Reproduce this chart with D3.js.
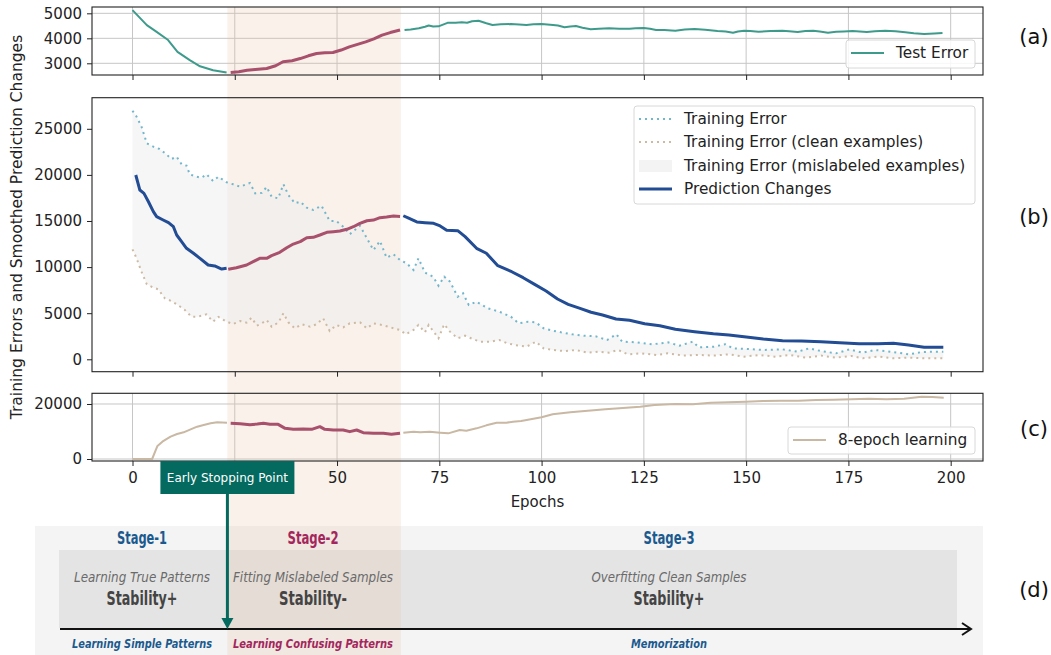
<!DOCTYPE html>
<html>
<head>
<meta charset="utf-8">
<script src="https://cdn.jsdelivr.net/npm/d3@7"></script>
<style>
  body { margin: 0; background: #fff; }
  text { font-family: "DejaVu Sans", sans-serif; }
</style>
</head>
<body>
<div id="chart"></div>
<script>
// ---- data: [epoch, value] ----
const testError = [[0,5130],[3.5,4530],[5.9,4260],[8.7,3930],[11,3460],[14,3125],[16.5,2880],[19.7,2720],[23,2630],
  [24,2630],[26,2660],[28,2720],[30,2750],[32.8,2790],[35,2900],[36.8,3060],[39,3100],[41,3190],[43,3300],[45,3390],[47,3420],[49,3430],[51,3530],[53,3660],[55,3760],[57,3860],[59,3980],[61,4130],[63,4230],[65.4,4330],
  [66.5,4330],[68,4350],[70,4400],[71.5,4460],[72.4,4510],[73.5,4470],[74.8,4480],[77,4620],[79,4620],[80.5,4640],[81.8,4620],[83,4680],[84.6,4700],[86.5,4600],[88,4530],[90,4560],[92.5,4570],[94.5,4550],[96.3,4530],[98,4560],[100,4570],[102.8,4530],[104,4510],[105.6,4440],[107,4470],[108.4,4490],[110,4420],[112,4360],[114,4380],[116.5,4400],[119,4380],[121.5,4383],[123,4400],[125,4410],[126.5,4380],[128,4330],[130,4330],[132.7,4303],[135,4350],[137.4,4370],[140,4340],[143,4290],[145,4270],[146.8,4222],[148,4270],[149.5,4303],[151,4290],[153,4263],[156,4290],[158.9,4303],[160.5,4280],[162.6,4249],[164.5,4290],[166.4,4303],[168,4270],[170,4222],[172,4260],[173.9,4277],[176,4290],[179.5,4249],[181.5,4280],[184,4303],[186.5,4280],[188.9,4240],[191,4200],[193.5,4169],[196,4190],[198,4209]];

const predChanges = [[0.8,19990],[1.8,18360],[2.8,18000],[3.9,17090],[5.1,16010],[5.9,15470],[7.5,15110],[8.8,14820],[10,14380],[10.8,13480],[12,12760],[13.2,12040],[14.9,11500],[16.5,10950],[18.5,10230],[20.1,10120],[21.8,9790],[23,9870],
  [23.4,9760],[25.4,9935],[27.9,10230],[29.5,10590],[31.1,10950],[32.8,10950],[34,11240],[36,11600],[37.7,12100],[39.3,12500],[41,12760],[42.6,13190],[44.2,13230],[45.8,13480],[47.5,13770],[49.1,13840],[50.7,13910],[52.4,14100],[54,14380],[55.6,14750],[57.3,15030],[58.9,15100],[60.5,15360],[62.1,15430],[63.8,15540],[65.4,15500],
  [66.2,15570],[67.5,15300],[69.5,14900],[71.5,14820],[73.6,14750],[75.2,14460],[76.8,14000],[79.5,13950],[81.3,13300],[84.1,12040],[86.5,11500],[89.3,10150],[92.7,9500],[95.5,8850],[98.3,8130],[101.1,7410],[103.9,6540],[106.5,5965],[109.4,5530],[112.1,5100],[114.9,4805],[118.2,4370],[121.5,4230],[125.2,3860],[128.9,3645],[132.7,3250],[137.4,2995],[142,2775],[145.8,2635],[149.5,2450],[154.2,2200],[158.9,2020],[163.5,1985],[168.3,1910],[172.9,1800],[177.6,1690],[182.3,1690],[186,1730],[189.7,1550],[193.5,1300],[198.2,1300]];

const trainError = [[0,26960],[1,26310],[2.2,25230],[3.5,23430],[5.1,23060],[6.6,22810],[8.3,22230],[9.5,21720],[10.8,21970],[12,21150],[13.2,21000],[14,20060],[15.7,19800],[16.9,19700],[18.1,20060],[19.7,19340],[21,19800],[23,19200],[24.6,18980],[26.3,18720],[28.7,19120],[30,18000],[31.6,18050],[32.8,18690],[34,17640],[35.6,17460],[36.9,18980],[38.1,17820],[39.7,16920],[41,17090],[42.6,16440],[44.2,16190],[46.2,16660],[48.2,15000],[49.8,15000],[51.5,14380],[53.1,13560],[55.6,14490],[57.3,13120],[58.9,11850],[60.5,12830],[62.1,11020],[63.8,11390],[65.4,10770],[67,10410],[68.7,9690],[69.9,10950],[71.5,9400],[73.5,8950],[74.8,7980],[76.2,8960],[77.6,8420],[79.5,6790],[80.8,7160],[82.2,5890],[84.1,6250],[86.9,5530],[89.7,5160],[92.5,4620],[94.4,3900],[96.7,4080],[98.6,4000],[100.5,3360],[102.8,3100],[104.7,2930],[107.5,2710],[110.3,2560],[113.2,2500],[116,2090],[118.3,2710],[119.7,1910],[123.4,1840],[127.1,1630],[130.9,1840],[133.7,1480],[137,1910],[138.4,1300],[142.1,1370],[144.9,1630],[146.8,1190],[150.5,1120],[154.2,1010],[158.9,1080],[162.6,820],[165.4,1190],[168.3,890],[172,650],[175.3,1080],[178.5,720],[181.4,1010],[184.2,890],[187,720],[189.8,540],[192.6,760],[195.4,820],[198.2,820]];

const cleanError = [[0,11930],[1,10950],[2.2,9500],[3.5,8130],[5.1,7770],[6.3,7590],[7.9,6620],[9.5,6320],[11.1,5890],[12.8,5350],[14.4,4620],[16,4620],[18.1,4880],[19.7,4080],[21,4600],[23,4080],[24.6,3830],[26.3,4160],[27.9,3970],[29.1,4510],[30.4,3650],[31.6,3900],[32.8,4260],[34,3540],[35.7,4010],[36.9,4990],[38.1,4010],[39.7,3360],[41.4,3800],[43.4,3540],[45,3800],[46.6,4450],[48.2,3070],[49.8,3720],[51.5,3470],[53.1,3900],[55.6,4010],[57.3,3360],[58.9,3900],[61,3720],[63,3470],[65.4,3180],[66.8,2710],[68.7,3180],[69.9,3720],[71.5,2930],[72.4,3720],[74.8,2280],[76.2,3800],[77.6,3000],[79.5,2280],[81.3,2560],[83.1,2210],[85,1910],[87.4,1910],[89.7,2090],[91.6,1740],[93.5,1550],[96.3,1370],[98.6,1910],[100.5,1190],[102.8,1010],[105.6,890],[108.4,1010],[111.2,720],[114,820],[116.4,720],[118.7,1010],[121.1,540],[124.3,650],[128.1,470],[130.9,650],[134.6,400],[138.3,470],[142.1,400],[145.8,540],[149.5,290],[153.3,470],[157,290],[160.8,470],[164.5,180],[168.3,400],[172,180],[175.7,360],[178.5,110],[182.3,290],[186,110],[189.7,180],[193.5,110],[198.2,110]];

const eightEpoch = [[0,0],[4.8,0],[6.1,4730],[7.3,6300],[9.3,8120],[10.9,9090],[12.5,9700],[14.2,10790],[15.8,11760],[17.4,12360],[19.1,12970],[20.7,13330],[23.1,13210],
  [24,13000],[26.3,12850],[28.7,12480],[30.5,12700],[32,12970],[33.6,12600],[35.6,12600],[37.3,11150],[39.3,10790],[41.7,10900],[43.8,10790],[45.8,11760],[47,10790],[49.1,10540],[51.5,10540],[53.1,9940],[54.8,10540],[56.4,9580],[58.9,9330],[61.3,9330],[63.3,8970],[65.4,9330],
  [66.2,9580],[68.7,9940],[70.3,9700],[72.7,9940],[75.2,9580],[77.2,9330],[80,10540],[81.6,10300],[84.1,11150],[86.5,12240],[89,13210],[91.4,13210],[93,13580],[95,13820],[100,15150],[102.7,16240],[107,16970],[111.3,17580],[115.6,18060],[119,18420],[124.1,19030],[127.6,19630],[132.7,20000],[137,19880],[141.3,20480],[145.6,20600],[149.9,20850],[154.2,21100],[158.5,21210],[162.8,21210],[167.1,21450],[171.4,21570],[175.7,21700],[180,21940],[184.3,21700],[188.6,21940],[192.9,22660],[195.5,22540],[198.3,22300]];

const xTicks = [0, 25, 50, 75, 100, 125, 150, 175, 200];
const aTicks = [3000, 4000, 5000];
const bTicks = [0, 5000, 10000, 15000, 20000, 25000];
const cTicks = [0, 20000];
const stage2 = [23.2, 65.6]; // epochs of the shaded stage-2 band
const earlyStop = 23.2;

// ---- layout ----
const W = 1051, H = 655;
const left = 92, right = 983;
const pa = {top: 7, bottom: 75};
const pb = {top: 97.7, bottom: 371.7};
const pc = {top: 393.3, bottom: 461};

const blue = "#224c93", red = "#a8506c", teal = "#3e9b8c";
const lightBlue = "#72b6cc", tan = "#cdbaa4", tan2 = "#c9b8a3";

const x = d3.scaleLinear().domain([-9.9, 207.9]).range([left, right]);
const yA = d3.scaleLinear().domain([2532, 5253]).range([pa.bottom, pa.top]);
const yB = d3.scaleLinear().domain([-1345, 28373]).range([pb.bottom, pb.top]);
const yC = d3.scaleLinear().domain([-727, 23890]).range([pc.bottom, pc.top]);

const svg = d3.select("#chart").append("svg").attr("width", W).attr("height", H);

// ---- panel (d) background ----
svg.append("rect").attr("x", 35).attr("y", 526).attr("width", 948).attr("height", 129).attr("fill", "#f4f4f4");
svg.append("rect").attr("x", 59).attr("y", 550).attr("width", 898).attr("height", 78).attr("fill", "#e4e4e4");

// ---- grids ----
function grid(y, ticks, p) {
  const g = svg.append("g").attr("stroke", "#c6c6c6").attr("stroke-width", 1);
  g.selectAll(".gx").data(xTicks).enter().append("line")
    .attr("x1", d => x(d)).attr("x2", d => x(d)).attr("y1", p.top).attr("y2", p.bottom);
  g.selectAll(".gy").data(ticks).enter().append("line")
    .attr("x1", left).attr("x2", right).attr("y1", d => y(d)).attr("y2", d => y(d));
}
grid(yA, aTicks, pa);
grid(yC, cTicks, pc);

// ---- stage-2 band ----
svg.append("rect")
  .attr("x", x(stage2[0])).attr("width", x(stage2[1]) - x(stage2[0]))
  .attr("y", pa.top).attr("height", H - pa.top)
  .attr("fill", "rgb(226,190,160)").attr("opacity", 0.22);

// ---- helpers ----
function segments(data) {
  return [
    data.filter(d => d[0] < stage2[0]),
    data.filter(d => d[0] >= stage2[0] && d[0] <= stage2[1]),
    data.filter(d => d[0] > stage2[1])
  ];
}
function drawSplit(data, y, color, wBase, wRed) {
  const line = d3.line().x(d => x(d[0])).y(d => y(d[1]));
  const s = segments(data);
  [0, 2, 1].forEach(i => {
    svg.append("path").datum(s[i]).attr("d", line)
      .attr("fill", "none")
      .attr("stroke", i === 1 ? red : color)
      .attr("stroke-width", i === 1 ? wRed : wBase)
      .attr("stroke-linejoin", "round").attr("stroke-linecap", "butt");
  });
}

// ---- panel (a) ----
drawSplit(testError, yA, teal, 2, 3);

// ---- panel (b) ----
const lineB = d3.line().x(d => x(d[0])).y(d => yB(d[1]));
svg.append("path")
  .datum(trainError.concat(cleanError.slice().reverse()))
  .attr("d", d => lineB(d) + "Z")
  .attr("fill", "#eeeeee").attr("opacity", 0.5);
svg.append("path").datum(trainError).attr("d", lineB)
  .attr("fill", "none").attr("stroke", lightBlue).attr("stroke-width", 2)
  .attr("stroke-dasharray", "2,4");
svg.append("path").datum(cleanError).attr("d", lineB)
  .attr("fill", "none").attr("stroke", tan).attr("stroke-width", 2)
  .attr("stroke-dasharray", "2,4");
drawSplit(predChanges, yB, blue, 3, 3);

// ---- panel (c) ----
drawSplit(eightEpoch, yC, tan2, 2, 3);

// ---- axes ----
function frame(y, ticks, p, showX) {
  svg.append("rect").attr("x", left).attr("y", p.top)
    .attr("width", right - left).attr("height", p.bottom - p.top)
    .attr("fill", "none").attr("stroke", "#222").attr("stroke-width", 1.1);
  const ya = svg.append("g").attr("transform", `translate(${left},0)`)
    .call(d3.axisLeft(y).tickValues(ticks).tickSize(5).tickPadding(5).tickFormat(d3.format("d")));
  // the 25 label sits under the early-stopping box in the figure
  const xa = svg.append("g").attr("transform", `translate(0,${p.bottom})`)
    .call(d3.axisBottom(x).tickValues(xTicks).tickSize(5).tickPadding(6)
      .tickFormat(d => (showX && d !== 25) ? d : ""));
  [ya, xa].forEach(g => {
    g.select(".domain").remove();
    g.selectAll("line").attr("stroke", "#222");
    g.selectAll("text").attr("font-size", 15).attr("fill", "#222")
      .attr("font-family", "DejaVu Sans");
  });
}
frame(yA, aTicks, pa, false);
frame(yB, bTicks, pb, false);
frame(yC, cTicks, pc, true);

svg.append("text").attr("x", (left + right) / 2).attr("y", 507)
  .attr("text-anchor", "middle").attr("font-size", 15).attr("fill", "#222").text("Epochs");
svg.append("text").attr("transform", "translate(22,227) rotate(-90)")
  .attr("text-anchor", "middle").attr("font-size", 15.5).attr("fill", "#222")
  .text("Training Errors and Smoothed Prediction Changes");

// ---- legends ----
function legendBox(x0, y0, w, h) {
  svg.append("rect").attr("x", x0).attr("y", y0).attr("width", w).attr("height", h)
    .attr("rx", 3).attr("fill", "#fff").attr("fill-opacity", 0.85)
    .attr("stroke", "#d8d8d8").attr("stroke-width", 1);
}
function legendItem(x0, y0, label, kind, color) {
  if (kind === "fill") {
    svg.append("rect").attr("x", x0).attr("y", y0 - 6).attr("width", 33).attr("height", 12)
      .attr("fill", "#eeeeee").attr("opacity", 0.7);
  } else {
    svg.append("line").attr("x1", x0).attr("x2", x0 + 33).attr("y1", y0).attr("y2", y0)
      .attr("stroke", color).attr("stroke-width", kind === "thick" ? 3 : 2)
      .attr("stroke-dasharray", kind === "dot" ? "2,4" : null);
  }
  svg.append("text").attr("x", x0 + 45).attr("y", y0).attr("dy", "0.35em")
    .attr("font-size", 15.3).attr("fill", "#222").text(label);
}
legendBox(846, 40, 129, 28);
legendItem(851, 53, "Test Error", "line", teal);

legendBox(634, 106, 341, 98);
legendItem(639, 119, "Training Error", "dot", lightBlue);
legendItem(639, 142, "Training Error (clean examples)", "dot", tan);
legendItem(639, 166, "Training Error (mislabeled examples)", "fill", null);
legendItem(639, 189, "Prediction Changes", "thick", blue);

legendBox(788, 427, 187, 27);
legendItem(793, 440, "8-epoch learning", "line", tan2);

// ---- panel labels ----
[["(a)", 44], ["(b)", 224], ["(c)", 436], ["(d)", 597]].forEach(d => {
  svg.append("text").attr("x", 1034).attr("y", d[1]).attr("text-anchor", "middle")
    .attr("font-family", "Liberation Serif, serif").attr("font-size", 21).attr("fill", "#111").text(d[0]);
});

// ---- panel (d) content ----
const stageBlue = "#1b5a8e", stageRed = "#a3265c";
const stages = [
  {cx: 142, name: "Stage-1", nw: 50, color: stageBlue, desc: "Learning True Patterns", dw: 136, stab: "Stability+", sw: 71, bottom: "Learning Simple Patterns", bw: 140},
  {cx: 313, name: "Stage-2", nw: 51, color: stageRed, desc: "Fitting Mislabeled Samples", dw: 160, stab: "Stability-", sw: 68, bottom: "Learning Confusing Patterns", bw: 160},
  {cx: 669, name: "Stage-3", nw: 51, color: stageBlue, desc: "Overfitting Clean Samples", dw: 155, stab: "Stability+", sw: 71, bottom: "Memorization", bw: 76}
];
function fitText(t, w) {
  return t.attr("textLength", w).attr("lengthAdjust", "spacingAndGlyphs");
}
stages.forEach(s => {
  fitText(svg.append("text").attr("x", s.cx).attr("y", 544).attr("text-anchor", "middle")
    .attr("font-family", "Liberation Sans, sans-serif").attr("font-weight", "bold")
    .attr("font-size", 17).attr("fill", s.color).text(s.name), s.nw);
  fitText(svg.append("text").attr("x", s.cx).attr("y", 582).attr("text-anchor", "middle")
    .attr("font-family", "Liberation Sans, sans-serif").attr("font-style", "italic")
    .attr("font-size", 14).attr("fill", "#6a6a6a").text(s.desc), s.dw);
  fitText(svg.append("text").attr("x", s.cx).attr("y", 605).attr("text-anchor", "middle")
    .attr("font-family", "Liberation Sans, sans-serif").attr("font-weight", "bold")
    .attr("font-size", 20).attr("fill", "#444").text(s.stab), s.sw);
  fitText(svg.append("text").attr("x", s.cx).attr("y", 648).attr("text-anchor", "middle")
    .attr("font-family", "Liberation Sans, sans-serif").attr("font-style", "italic").attr("font-weight", "bold")
    .attr("font-size", 11.5).attr("fill", s.color).text(s.bottom), s.bw);
});

// timeline arrow
svg.append("line").attr("x1", 60).attr("x2", 970).attr("y1", 629).attr("y2", 629)
  .attr("stroke", "#111").attr("stroke-width", 2);
svg.append("path").attr("d", "M962,623 L971,629 L962,635")
  .attr("fill", "none").attr("stroke", "#111").attr("stroke-width", 2);

// early stopping marker
const esx = x(earlyStop);
const esColor = "#04695e";
svg.append("line").attr("x1", esx).attr("x2", esx).attr("y1", 494).attr("y2", 620)
  .attr("stroke", esColor).attr("stroke-width", 3);
svg.append("path").attr("d", `M${esx - 6},618 L${esx + 6},618 L${esx},629 Z`).attr("fill", esColor);
svg.append("rect").attr("x", esx - 67).attr("y", 461).attr("width", 134).attr("height", 33)
  .attr("fill", esColor);
svg.append("text").attr("x", esx).attr("y", 478).attr("dy", "0.35em").attr("text-anchor", "middle")
  .attr("font-family", "Liberation Sans, sans-serif").attr("font-size", 12).attr("fill", "#fff")
  .text("Early Stopping Point");
</script>
</body>
</html>
